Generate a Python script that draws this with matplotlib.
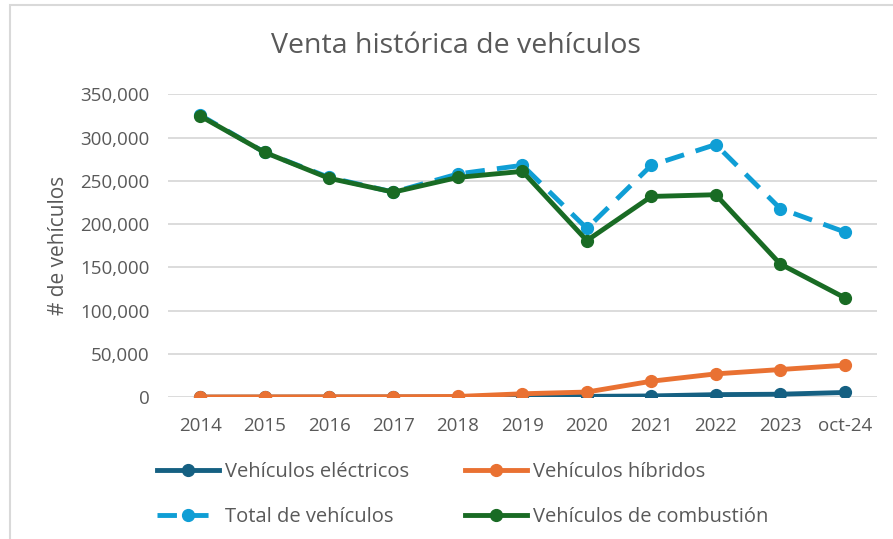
import matplotlib.pyplot as plt
from matplotlib.patches import Rectangle
from matplotlib.ticker import FuncFormatter

plt.rcParams['font.family'] = ['Open Sans', 'DejaVu Sans']

years = ['2014', '2015', '2016', '2017', '2018', '2019', '2020', '2021', '2022', '2023', 'oct-24']
electricos = [100, 150, 200, 250, 300, 500, 1000, 1500, 3000, 3500, 5500]
hibridos = [300, 400, 500, 600, 900, 4000, 6000, 18500, 27000, 32000, 37000]
total = [326000, 283000, 254000, 237000, 258000, 268000, 195000, 268000, 292000, 218000, 191000]
combustion = [325000, 283000, 253000, 237000, 254000, 261000, 181000, 232000, 234000, 154000, 115000]

fig = plt.figure(figsize=(8.93, 5.39), dpi=100)
ax = fig.add_axes([0.188, 0.263, 0.794, 0.562])

x = range(len(years))
l1, = ax.plot(x, electricos, color='#156082', lw=3.5, marker='o', ms=8.5, label='Vehículos eléctricos')
l2, = ax.plot(x, hibridos, color='#E97132', lw=3.5, marker='o', ms=8.5, label='Vehículos híbridos')
l3, = ax.plot(x, total, color='#0F9ED5', lw=3.5, marker='o', ms=8.5, dashes=(4, 2.5),
              label='Total de vehículos')
l4, = ax.plot(x, combustion, color='#196B24', lw=3.5, marker='o', ms=8.5, label='Vehículos de combustión')

ax.set_xlim(-0.5, len(years) - 0.5)
ax.set_ylim(0, 350000)
ax.set_yticks(range(0, 350001, 50000))
ax.yaxis.set_major_formatter(FuncFormatter(lambda v, p: f'{int(v):,}'))
ax.set_xticks(list(x))
ax.set_xticklabels(years)
ax.grid(axis='y', color='#d9d9d9', lw=1.3)
ax.set_axisbelow(True)
for s in ax.spines.values():
    s.set_visible(False)
ax.tick_params(length=0, labelsize=13.5, colors='#595959')
ax.tick_params(axis='y', pad=13)
ax.tick_params(axis='x', pad=14)

ax.set_ylabel('# de vehículos', fontsize=15, color='#595959', labelpad=8)
fig.text(0.511, 0.915, 'Venta histórica de vehículos', ha='center', va='center',
         fontsize=20.5, color='#595959')

fig.legend([l1, l3, l2, l4], [h.get_label() for h in [l1, l3, l2, l4]],
           ncol=2, loc='center', bbox_to_anchor=(0.518, 0.082), frameon=False,
           fontsize=14.5, labelcolor='#595959', handlelength=3.1, handletextpad=0.3,
           columnspacing=2.75, labelspacing=1.25)

fig.patches.append(Rectangle((10 / 893, -0.1), 1.0, 1.1 - 5 / 539, transform=fig.transFigure,
                             fill=False, edgecolor='#d9d9d9', lw=1.5))

fig.savefig('out.png', dpi=100)
